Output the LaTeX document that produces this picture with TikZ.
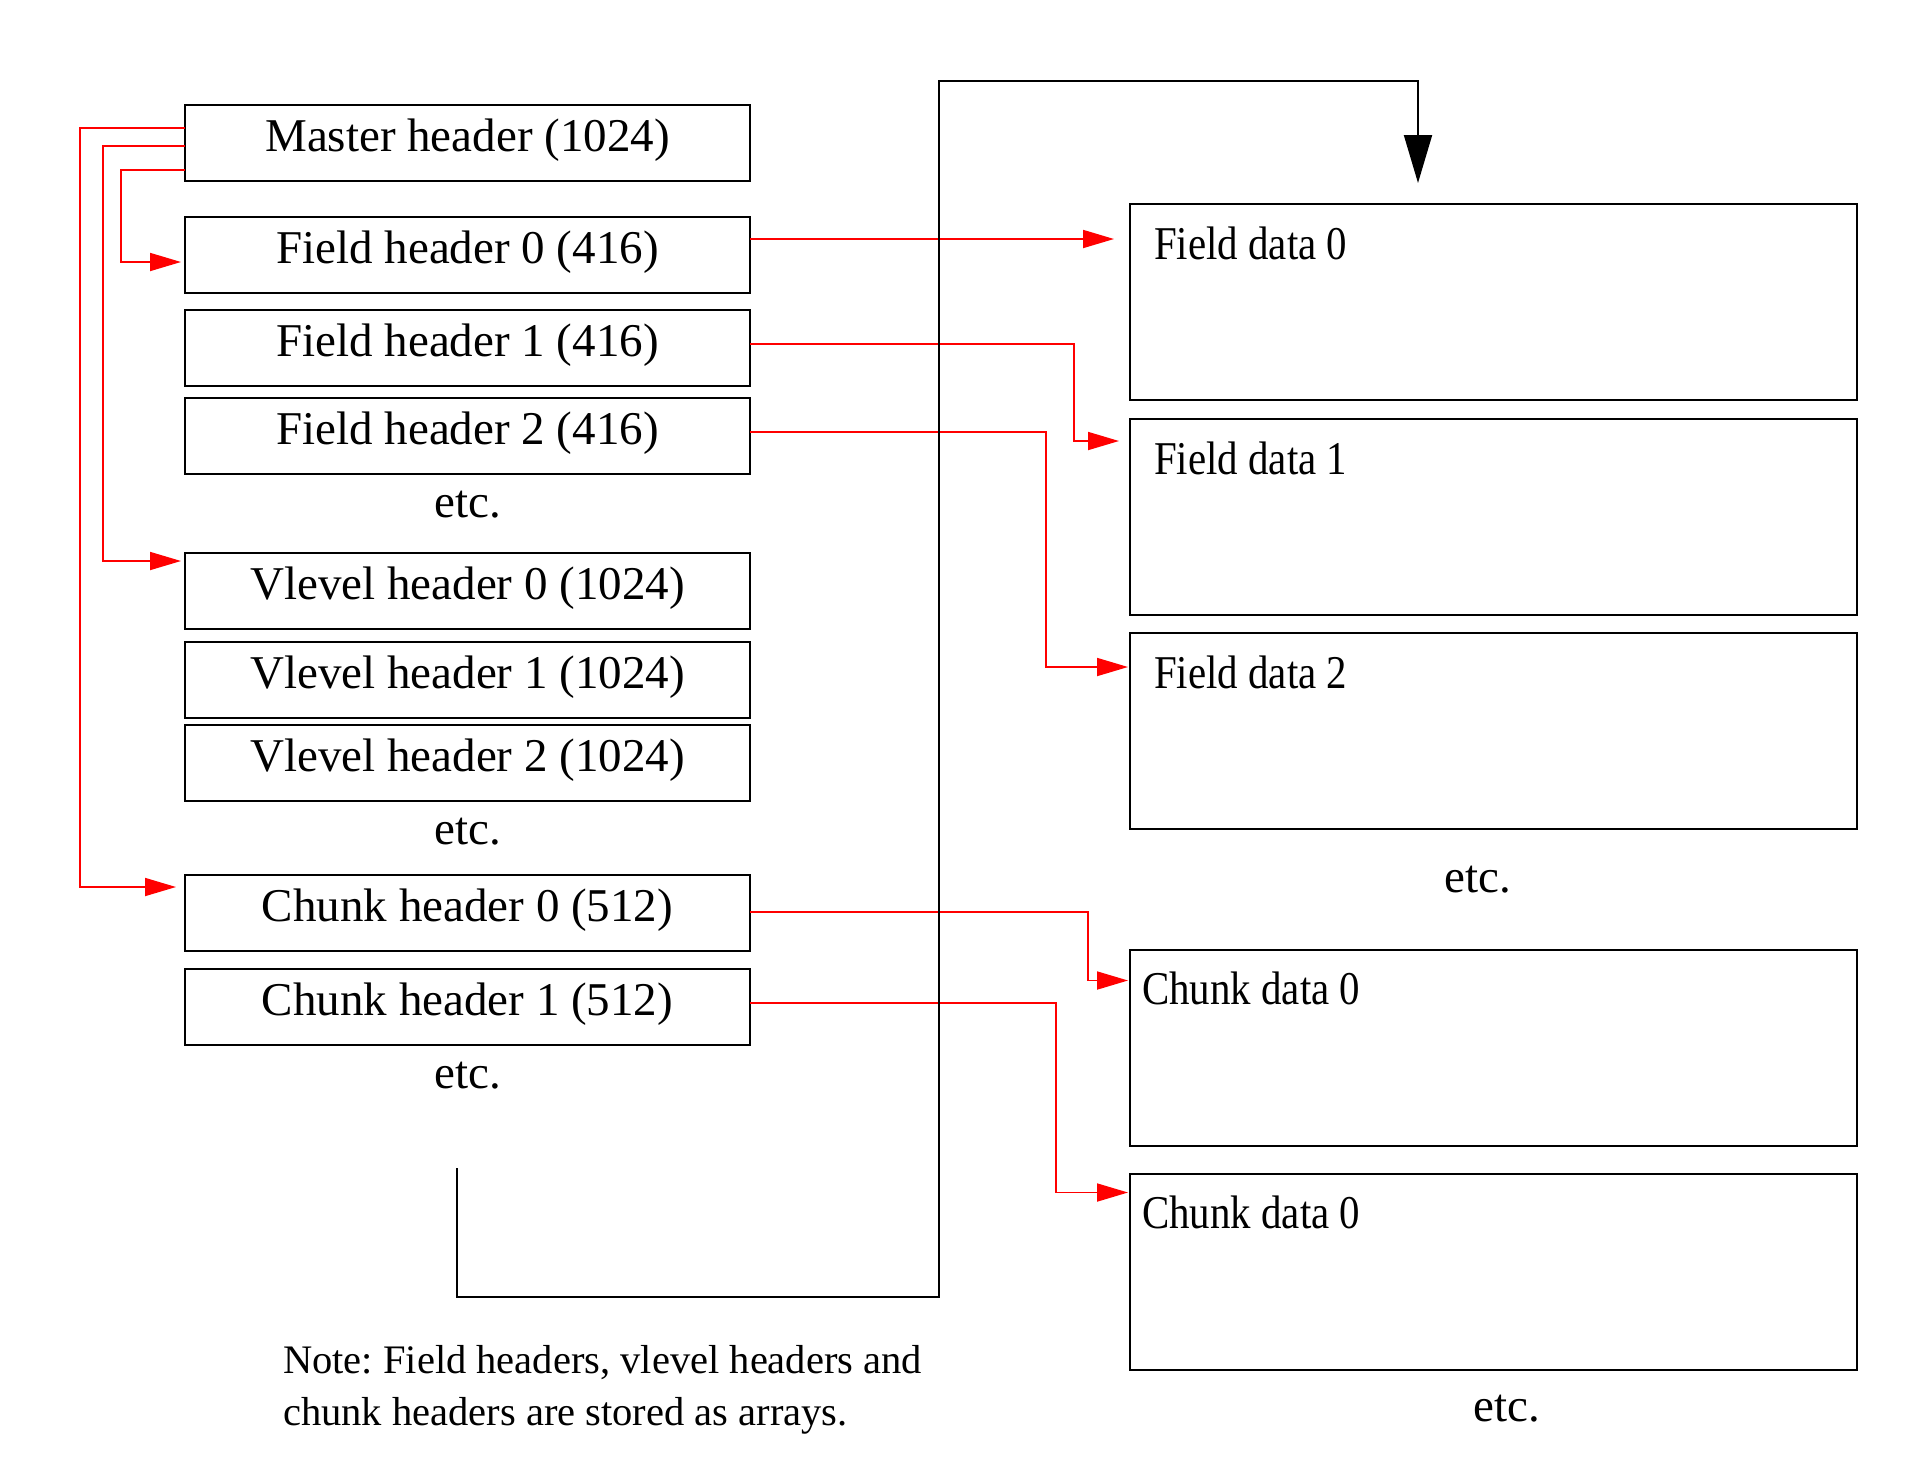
\documentclass[tikz,border=0pt]{standalone}
\usepackage{fontspec}
\setmainfont{Liberation Serif}
\usepackage{graphicx}
\usetikzlibrary{arrows.meta, positioning}

\newcommand{\narrowtext}[1]{\scalebox{0.87}[1]{#1}}
\frenchspacing

\begin{document}
\begin{tikzpicture}[x=1pt, y=-1pt, >={Triangle[length=31pt,width=18pt]},
  headbox/.style={draw, line width=2pt, minimum width=565pt, minimum height=76pt,
    inner sep=0pt, outer sep=0pt, text height=30pt, text depth=14pt,
    font=\fontsize{47}{56}\selectfont},
  databox/.style={draw, line width=2pt, minimum width=727pt, minimum height=196pt,
    inner sep=0pt, outer sep=0pt},
  datatext/.style={anchor=base west, inner sep=0pt, yshift=-55pt,
    font=\fontsize{47}{56}\selectfont},
  etctext/.style={inner sep=0pt, text height=27pt, text depth=0pt,
    font=\fontsize{47}{56}\selectfont},
  link/.style={->, red, line width=1.8pt}]

  \useasboundingbox (0,0) rectangle (1930,1460);

  % headers
  \node[headbox] (master) at (467.5,143) {Master header (1024)};
  \node[headbox] (fh0) [below=36pt of master] {Field header 0 (416)};
  \node[headbox] (fh1) [below=17pt of fh0] {Field header 1 (416)};
  \node[headbox] (fh2) [below=12pt of fh1] {Field header 2 (416)};
  \node[etctext] (etc1) [below=16pt of fh2] {etc.};
  \node[headbox] (vh0) [below=79pt of fh2] {Vlevel header 0 (1024)};
  \node[headbox] (vh1) [below=13pt of vh0] {Vlevel header 1 (1024)};
  \node[headbox] (vh2) [below=7pt of vh1] {Vlevel header 2 (1024)};
  \node[etctext] (etc2) [below=16pt of vh2] {etc.};
  \node[headbox] (ch0) [below=74pt of vh2] {Chunk header 0 (512)};
  \node[headbox] (ch1) [below=18pt of ch0] {Chunk header 1 (512)};
  \node[etctext] (etc3) [below=16pt of ch1] {etc.};

  % data
  \node[databox] (fd0) at (1493.5,302)
    [label={[datatext,xshift=24pt]north west:\narrowtext{Field data 0}}] {};
  \node[databox] (fd1) [below=19pt of fd0,
    label={[datatext,xshift=24pt]north west:\narrowtext{Field data 1}}] {};
  \node[databox] (fd2) [below=18pt of fd1,
    label={[datatext,xshift=24pt]north west:\narrowtext{Field data 2}}] {};
  \node[etctext] (etc4) [below=36pt of fd2, xshift=-16pt] {etc.};
  \node[databox] (cd0) at (1493.5,1047.5)
    [label={[datatext,xshift=12pt]north west:\narrowtext{Chunk data 0}}] {};
  \node[databox] (cd1) [below=28pt of cd0,
    label={[datatext,xshift=12pt]north west:\narrowtext{Chunk data 0}}] {};
  \node[etctext] (etc5) [below=25pt of cd1, xshift=13pt] {etc.};

  \node (note) at (283,1345) [anchor=north west, inner sep=0pt, align=left,
    font=\fontsize{40.5}{52}\selectfont]
    {Note: Field headers, vlevel headers and\\chunk headers are stored as arrays.};

  % master header links
  \draw[link, shorten >=4pt] ([yshift=-27pt]master.west) -- ++(-64,0) |- ([yshift=-7pt]fh0.west);
  \draw[link, shorten >=4pt] ([yshift=-3pt]master.west) -- ++(-82,0) |- ([yshift=30pt]vh0.west);
  \draw[link, shorten >=9pt] ([yshift=15pt]master.west) -- ++(-105,0) |- ([yshift=26pt]ch0.west);

  % header to data links
  \draw[link, shorten >=16pt] ([yshift=16pt]fh0.east) -- ++(380,0);
  \draw[link, shorten >=11pt] ([yshift=4pt]fh1.east) -- ++(324,0) |- ([yshift=76pt]fd1.west);
  \draw[link, shorten >=2pt] ([yshift=4pt]fh2.east) -- ++(296,0) |- ([yshift=64pt]fd2.west);
  \draw[link, shorten >=2pt] ([yshift=1pt]ch0.east) -- ++(338,0) |- ([yshift=67pt]cd0.west);
  \draw[link, shorten >=2pt] ([yshift=4pt]ch1.east) -- ++(306,0) |- ([yshift=79pt]cd1.west);

  % back to the data
  \coordinate (loopstart) at (457,1168);
  \coordinate (loopend) at (1418,183);
  \draw[line width=2pt, -{Triangle[length=48pt,width=28pt]}]
    (loopstart) |- (938.5,1297) -- (938.5,80.5) -| (loopend);
\end{tikzpicture}
\end{document}
